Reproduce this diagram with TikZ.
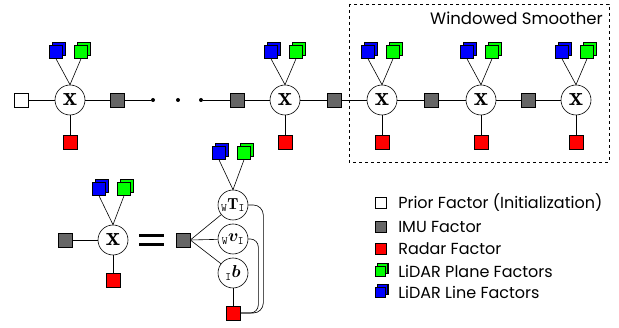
\documentclass[tikz,border=0pt]{standalone}
\usepackage{fontspec}
\usepackage{amsmath,bm}
\usetikzlibrary{shadows,calc}
\newfontfamily\gfont{Poppins}
\begin{document}
\begin{tikzpicture}[x=1pt,y=-1pt,
  every path/.style={line width=0.6pt},
  var/.style={circle, draw, fill=white, minimum size=30pt, inner sep=0pt, font=\fontsize{27}{30}\selectfont},
  svar/.style={circle, draw, fill=white, minimum size=30pt, inner sep=0pt, font=\fontsize{16}{18}\selectfont},
  fac/.style={draw, minimum size=14pt, inner sep=0pt},
  imu/.style={fac, fill=black!60},
  radar/.style={fac, fill=red},
  prior/.style={fac, fill=white},
  lplane/.style={fac, minimum size=13pt, fill=green, copy shadow={shadow xshift=3pt, shadow yshift=3pt, fill=green, draw=black}},
  lline/.style={fac, minimum size=13pt, fill=blue, copy shadow={shadow xshift=3pt, shadow yshift=3pt, fill=blue, draw=black}},
  lgs/.style={minimum size=11pt},
  lgt/.style={anchor=west, font=\gfont\fontsize{16}{18}\selectfont, inner sep=0pt},
  dotn/.style={circle, fill, inner sep=0pt, minimum size=4pt},
]
\useasboundingbox (0,0) rectangle (619,328);

% window box
\draw[dashed] (349,4) rectangle (609,162);
\node[anchor=east, font=\gfont\fontsize{16.5}{18}\selectfont, inner sep=0pt] (wt) at (603,18) {Windowed Smoother};

% top row
\node[prior] (p0) at (21,100) {};
\node[var] (x1) at (70,100) {$\mathbf{x}$};
\node[imu] (i1) at (117,100) {};
\node[dotn] (d1) at (153,100) {};
\node[dotn] (d2) at (178,100) {};
\node[dotn] (d3) at (201,100) {};
\node[imu] (i2) at (237,100) {};
\node[var] (x2) at (285,100) {$\mathbf{x}$};
\node[imu] (i3) at (334,100) {};
\node[var] (x3) at (382,100) {$\mathbf{x}$};
\node[imu] (i4) at (431,100) {};
\node[var] (x4) at (481,100) {$\mathbf{x}$};
\node[imu] (i5) at (528,100) {};
\node[var] (x5) at (576,100) {$\mathbf{x}$};

\draw (p0) -- (x1) -- (i1) -- (d1);
\draw (d3) -- (i2) -- (x2) -- (i3) -- (x3) -- (i4) -- (x4) -- (i5) -- (x5);

\foreach \n in {1,...,5}{
  \node[radar] (r\n) at ($(x\n)+(0,42)$) {};
  \node[lline] (b\n) at ($(x\n)+(-14,-48)$) {};
  \node[lplane] (g\n) at ($(x\n)+(11,-48)$) {};
  \draw (x\n) -- (r\n);
  \draw (x\n.north) -- (b\n.south);
  \draw (x\n.north) -- (g\n.south);
}

% bottom left
\node[imu] (bi) at (65,240) {};
\node[var] (bx) at (113,240) {$\mathbf{x}$};
\node[radar] (br) at (113,280) {};
\node[lline] (bb) at (99,189) {};
\node[lplane] (bg) at (124,189) {};
\draw (bi) -- (bx) -- (br);
\draw (bx.north) -- (bb.south);
\draw (bx.north) -- (bg.south);

% equals
\draw[line width=2.6pt] (139,235.5) -- (164,235.5);
\draw[line width=2.6pt] (139,244.5) -- (164,244.5);

% decomposition
\node[imu] (di) at (183,240) {};
\node[svar] (dT) at (233,205) {${}_{\mathtt{W}}\mathbf{T}_{\mathtt{I}}$};
\node[svar] (dv) at (233,239) {${}_{\mathtt{W}}\bm{v}_{\mathtt{I}}$};
\node[svar] (db) at (233,273) {${}_{\mathtt{I}}\bm{b}$};
\node[radar] (dr) at (233,313) {};
\node[lline] (db1) at (219,153) {};
\node[lplane] (dg1) at (244,153) {};
\draw (dT.north) -- (db1.south);
\draw (dT.north) -- (dg1.south);
\draw (di.east) -- (dT);
\draw (di.east) -- (dv);
\draw (di.east) -- (db);
\draw (db) -- (dr);
\draw[rounded corners=10pt] (dT.east) -- ++(15,0) |- (dr.east);
\draw[rounded corners=8pt] (dv.east) -- ++(10,0) |- (dr.east);

% legend
\node[prior, lgs] (lp) at (381,203) {};
\node[imu, lgs] (li) at (381,227) {};
\node[radar, lgs] (lr) at (381,249) {};
\node[lplane, minimum size=10pt, copy shadow={shadow xshift=2.5pt, shadow yshift=2.5pt, fill=green, draw=black}] (lg) at (380,271) {};
\node[lline, minimum size=10pt, copy shadow={shadow xshift=2.5pt, shadow yshift=2.5pt, fill=blue, draw=black}] (lb) at (380,292) {};
\node[lgt] (tp) at (398,203) {Prior Factor (Initialization)};
\node[lgt] (ti) at (398,227) {IMU Factor};
\node[lgt] (tr) at (398,249) {Radar Factor};
\node[lgt] (tg) at (398,271) {LiDAR Plane Factors};
\node[lgt] (tb) at (398,292) {LiDAR Line Factors};
\end{tikzpicture}
\end{document}
